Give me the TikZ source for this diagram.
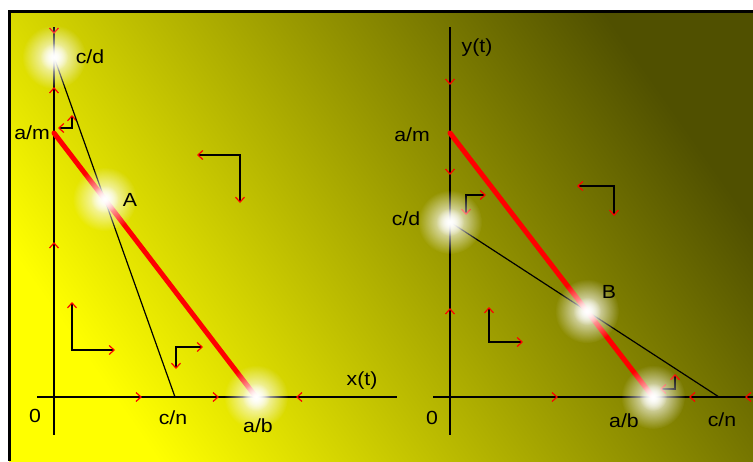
\documentclass[tikz,border=0pt]{standalone}
\usepackage{fontspec}
\setmainfont{Liberation Sans}
\usetikzlibrary{arrows.meta}
\usetikzlibrary{fadings}
\usetikzlibrary{calc}

\definecolor{bgtop}{RGB}{80,80,0}
\definecolor{bgbot}{RGB}{255,255,0}
\tikzset{
  axis/.style={black, line width=1.5pt},
  trace/.style={red, line width=5pt, line cap=round},
  chord/.style={black, line width=1.2pt},
  vec/.style={black, line width=1.5pt, {Straight Barb[color=red, length=5pt, width=9pt, line width=1.2pt]}-{Straight Barb[color=red, length=5pt, width=9pt, line width=1.2pt]}},
  lbl/.style={font=\fontsize{19}{21}\selectfont, xscale=1.12, inner sep=0},
  glow/.style={white, path fading=glowfade},
  mk/.pic={\draw[red, line width=1.2pt] (-5,-4.5) -- (0,0) -- (-5,4.5);},
}
\tikzfading[name=glowfade, inner color=transparent!0, outer color=transparent!100]

\begin{document}
\begin{tikzpicture}[x=1pt, y=-1pt]
\useasboundingbox (0,0) rectangle (753,461);
\fill[white] (0,0) rectangle (753,461);
\shade[top color=bgtop, bottom color=bgbot, shading angle=-55] (9,11) rectangle (753,461);
\draw[black, line width=3pt] (9.5,461) -- (9.5,11.5) -- (753,11.5);

\coordinate (Lcd) at (54,57);
\coordinate (Lam) at (54,133);
\coordinate (Lcn) at (175,397);
\coordinate (Lab) at (256,397);
\coordinate (A) at (intersection of Lam--Lab and Lcd--Lcn);
\coordinate (Rcd) at (450,222);
\coordinate (Ram) at (450,133);
\coordinate (Rab) at (653,397);
\coordinate (Rcn) at (719,397);
\coordinate (B) at (intersection of Ram--Rab and Rcd--Rcn);

\draw[axis] (54,27) -- (54,435);
\draw[axis] (37,397) -- (397,397);
\draw[axis] (450,27) -- (450,435);
\draw[axis] (433,397) -- (753,397);

\foreach \x/\y/\r in {54/33/-90, 54/88/90, 54/243/90, 141/397/0, 218/397/0, 297/397/180,
                      450/84/-90, 450/174/-90, 450/309/90, 557/397/0, 690/397/180, 746/397/180} {
  \pic[rotate=\r] at (\x,\y) {mk};
}

\foreach \ax/\ay/\cx/\cy/\bx/\by in {58/128/72/128/72/115, 197/155/240/155/240/203,
    72/302/72/350/115/350, 203/347/176/347/176/369, 486/195/466/195/466/215,
    577/186/614/186/614/216, 489/307/489/342/523/342, 660/389/675/389/675/374} {
  \draw[vec] (\ax,\ay) -- (\cx,\cy) -- (\bx,\by);
}

\draw[chord] (Lcd) -- (Lcn);
\draw[trace] (Lam) -- (Lab);
\draw[chord] (Rcd) -- (Rcn);
\draw[trace] (Ram) -- (Rab);

\foreach \p in {Lcd, A, Lab, Rcd, B, Rab} {
  \fill[glow] (\p) circle (32);
  \fill[glow] (\p) circle (14);
}

\node[lbl] (lcd) at (90,57) {c/d};
\node[lbl] (lam) at (32,133) {a/m};
\node[lbl] (la) at (130,200) {A};
\node[lbl] (lcn) at (173,418) {c/n};
\node[lbl] (lab) at (258,426) {a/b};
\node[lbl] (lo) at (35,416) {0};
\node[lbl] (lx) at (362,381) {x(t)};
\node[lbl] (ry) at (477,48) {y(t)};
\node[lbl] (ram) at (412,135) {a/m};
\node[lbl] (rcd) at (406,219) {c/d};
\node[lbl] (rb) at (609,292) {B};
\node[lbl] (rab) at (624,421) {a/b};
\node[lbl] (rcn) at (722,420) {c/n};
\node[lbl] (ro) at (432,418) {0};
\end{tikzpicture}
\end{document}
